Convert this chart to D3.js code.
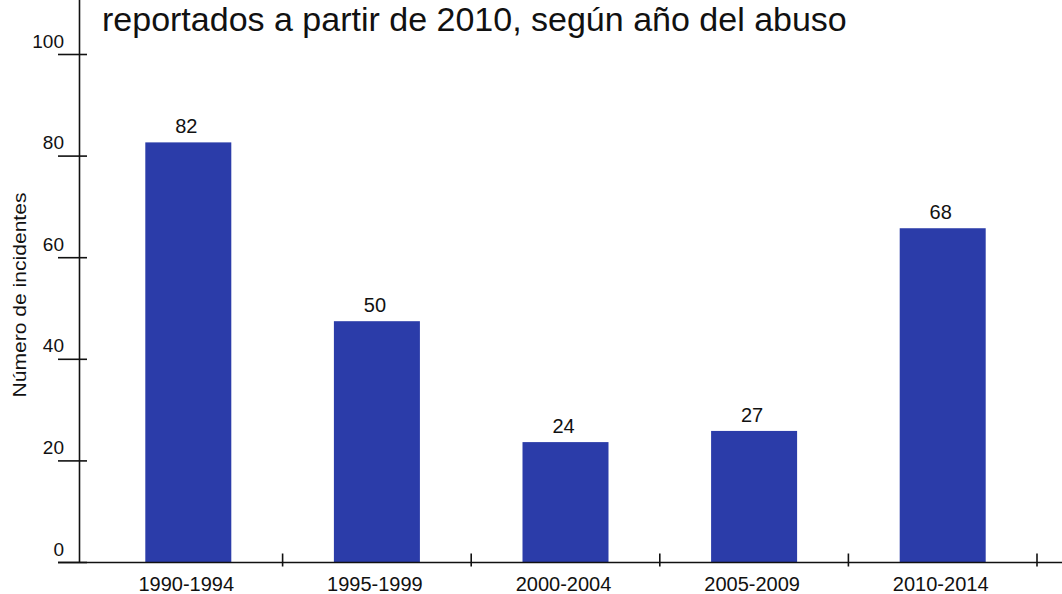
<!DOCTYPE html>
<html>
<head>
<meta charset="utf-8">
<script src="https://cdn.jsdelivr.net/npm/d3@7"></script>
<style>
  html, body { margin: 0; padding: 0; background: #fff; }
  svg { display: block; font-family: "Liberation Sans", Arial, sans-serif; }
</style>
</head>
<body>
<svg id="chart" width="1062" height="594"></svg>
<script>
const periods = ["1990-1994", "1995-1999", "2000-2004", "2005-2009", "2010-2014"];
// bar heights as drawn in the picture, and the labels printed above them
const barValues = [82.7, 47.5, 23.7, 25.9, 65.8];
const barLabels = ["82", "50", "24", "27", "68"];
const yTicks = [0, 20, 40, 60, 80, 100];
const titleText = "reportados a partir de 2010, según año del abuso";
const yTitle = "Número de incidentes";

const width = 1062;
const height = 594;
const barColor = "#2b3ca9";

const svg = d3.select("#chart");

const x = d3.scaleBand()
  .domain(periods)
  .range([94, 1037])
  .paddingInner(0.544)
  .paddingOuter(0.272);

const y = d3.scaleLinear()
  .domain([0, 100])
  .range([562.5, 54.5]);

// title (only its second line shows in the original)
svg.append("text")
  .attr("x", 102)
  .attr("y", 31)
  .attr("font-size", 34)
  .attr("fill", "#111")
  .text(titleText);

// bars
svg.selectAll(".bar")
  .data(barValues)
  .enter()
  .append("rect")
  .attr("class", "bar")
  .attr("x", (d, i) => x(periods[i]))
  .attr("y", (d) => y(d))
  .attr("width", x.bandwidth())
  .attr("height", (d) => y(0) - y(d))
  .attr("fill", barColor);

svg.selectAll(".bar-label")
  .data(barValues)
  .enter()
  .append("text")
  .attr("class", "bar-label")
  .attr("x", (d, i) => x(periods[i]) + x.bandwidth() / 2 - 2)
  .attr("y", (d) => y(d) - 9)
  .attr("text-anchor", "middle")
  .attr("font-size", 20)
  .attr("fill", "#111")
  .text((d, i) => barLabels[i]);

// y axis
svg.append("line")
  .attr("x1", 79.5)
  .attr("x2", 79.5)
  .attr("y1", 0)
  .attr("y2", y(0))
  .attr("stroke", "#111")
  .attr("stroke-width", 1.6);

svg.selectAll(".y-tick")
  .data(yTicks)
  .enter()
  .append("line")
  .attr("class", "y-tick")
  .attr("x1", 58)
  .attr("x2", 87)
  .attr("y1", (d) => y(d))
  .attr("y2", (d) => y(d))
  .attr("stroke", "#111")
  .attr("stroke-width", 1.6);

svg.selectAll(".y-label")
  .data(yTicks)
  .enter()
  .append("text")
  .attr("class", "y-label")
  .attr("x", 64)
  .attr("y", (d) => y(d) - 7)
  .attr("text-anchor", "end")
  .attr("font-size", 19)
  .attr("fill", "#111")
  .text((d) => d);

svg.append("text")
  .attr("transform", "translate(25.5,295) rotate(-90)")
  .attr("text-anchor", "middle")
  .attr("font-size", 18)
  .attr("textLength", 205)
  .attr("lengthAdjust", "spacingAndGlyphs")
  .attr("fill", "#111")
  .text(yTitle);

// x axis
svg.append("line")
  .attr("x1", 58)
  .attr("x2", width)
  .attr("y1", y(0))
  .attr("y2", y(0))
  .attr("stroke", "#111")
  .attr("stroke-width", 1.6);

svg.selectAll(".x-tick")
  .data(periods)
  .enter()
  .append("line")
  .attr("class", "x-tick")
  .attr("x1", (d) => x(d) + x.bandwidth() / 2 + x.step() / 2)
  .attr("x2", (d) => x(d) + x.bandwidth() / 2 + x.step() / 2)
  .attr("y1", y(0) - 9)
  .attr("y2", y(0) + 4)
  .attr("stroke", "#111")
  .attr("stroke-width", 1.6);

svg.selectAll(".x-label")
  .data(periods)
  .enter()
  .append("text")
  .attr("class", "x-label")
  .attr("x", (d) => x(d) + x.bandwidth() / 2 - 2)
  .attr("y", 591)
  .attr("text-anchor", "middle")
  .attr("font-size", 20)
  .attr("fill", "#111")
  .text((d) => d);
</script>
</body>
</html>
